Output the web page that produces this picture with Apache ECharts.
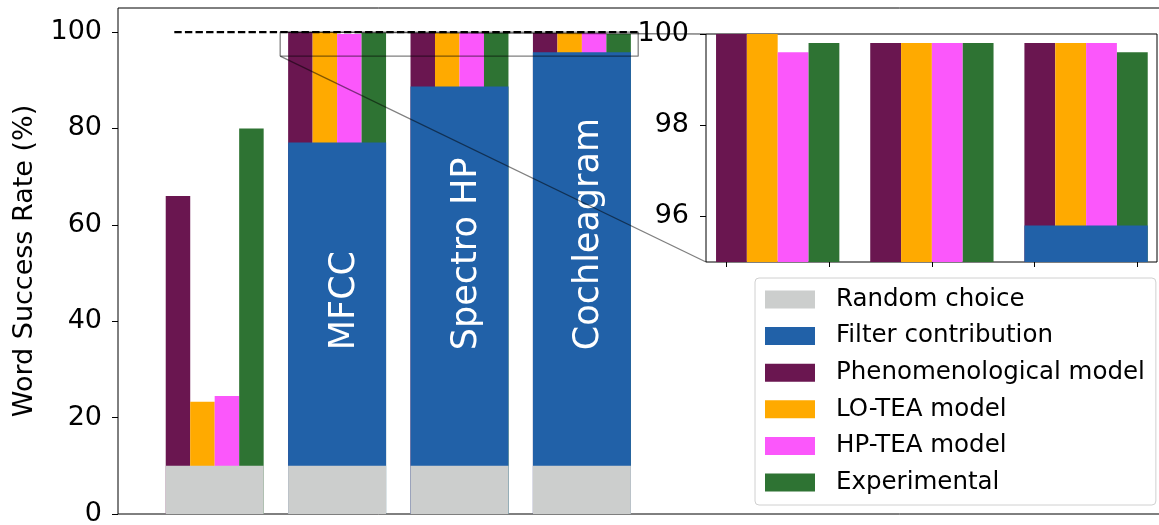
<!DOCTYPE html>
<html>
<head>
<meta charset="utf-8">
<script src="https://cdn.jsdelivr.net/npm/echarts@6/dist/echarts.min.js"></script>
<style>
  html, body { margin: 0; padding: 0; background: #fff; }
  #chart { width: 1159px; height: 525px; }
</style>
</head>
<body>
<div id="chart"></div>
<script>
// ---- data ----
const groups = ['No filter', 'MFCC', 'Spectro HP', 'Cochleagram'];
const barLabels = ['', 'MFCC', 'Spectro HP', 'Cochleagram'];
const randomChoice = [10, 10, 10, 10];
const filterTop = [null, 77.1, 88.7, 95.8];
const phenomenological = [66, 100, 99.8, 99.8];
const loTea = [23.3, 100, 99.8, 99.8];
const hpTea = [24.5, 99.6, 99.8, 99.8];
const experimental = [80, 99.8, 99.8, 99.6];
const yTicks = [0, 20, 40, 60, 80, 100];
const insetYTicks = [96, 98, 100];
const insetXTicks = [2 / 3, 4 / 3, 2, 8 / 3, 10 / 3];
const perfectX = [-0.33, 3.47];   // extent of the 100 % dashed line
const zoomX = [0.535, 3.46];      // zoomed region, also the inset limits
const zoomY = [95, 100];

const FONT = 'DejaVu Sans';
const chart = echarts.init(document.getElementById('chart'));

const models = [
  { name: 'Phenomenological model', values: phenomenological, color: '#6a1650' },
  { name: 'LO-TEA model', values: loTea, color: '#ffaa00' },
  { name: 'HP-TEA model', values: hpTea, color: '#fb57fb' },
  { name: 'Experimental', values: experimental, color: '#2e7333' }
];
const grayColor = '#cccecd';
const blueColor = '#2161a8';

// grid 0 = main axes, grid 1 = inset
function barsFor(gridIdx, wideAxis, narrowAxis, wideW, narrowW) {
  const out = [];
  models.forEach(function (m, k) {
    out.push({
      name: m.name, type: 'bar', xAxisIndex: narrowAxis, yAxisIndex: gridIdx,
      barWidth: narrowW, barGap: '-100%', z: 2,
      itemStyle: { color: m.color },
      data: m.values.map(function (v, i) { return [i + (k - 1.5) * 0.2, v]; })
    });
  });
  out.push({
    name: 'Filter contribution', type: 'bar', xAxisIndex: wideAxis, yAxisIndex: gridIdx,
    barWidth: wideW, barGap: '-100%', z: 3,
    itemStyle: { color: blueColor },
    data: filterTop.map(function (v, i) { return [i, v]; }).filter(function (d) { return d[1] != null; })
  });
  out.push({
    name: 'Random choice', type: 'bar', xAxisIndex: wideAxis, yAxisIndex: gridIdx,
    barWidth: wideW, barGap: '-100%', z: 4,
    itemStyle: { color: grayColor },
    data: randomChoice.map(function (v, i) { return [i, v]; })
  });
  return out;
}

let series = [].concat(barsFor(0, 0, 1, 98, 24.5), barsFor(1, 2, 3, 123.3, 30.8));

series.push({
  name: 'perfect', type: 'line', xAxisIndex: 0, yAxisIndex: 0, z: 6,
  symbol: 'none', silent: true,
  lineStyle: { color: '#000', width: 2.4, type: [7.4, 3.2] },
  data: perfectX.map(function (x) { return [x, 100]; })
});
series.push({
  name: 'zoomRect', type: 'line', xAxisIndex: 0, yAxisIndex: 0, z: 7,
  symbol: 'none', silent: true,
  lineStyle: { color: 'rgba(0,0,0,0.5)', width: 1.3 },
  data: [[zoomX[0], zoomY[0]], [zoomX[1], zoomY[0]], [zoomX[1], zoomY[1]], [zoomX[0], zoomY[1]], [zoomX[0], zoomY[0]]]
});
series.push({
  name: 'names', type: 'scatter', xAxisIndex: 0, yAxisIndex: 0, z: 8,
  symbolSize: 0, silent: true,
  itemStyle: { opacity: 1 },
  label: {
    show: true, position: 'inside', rotate: 90, align: 'left', verticalAlign: 'middle',
    color: '#ffffff', opacity: 1, fontSize: 35, fontFamily: FONT,
    textBorderWidth: 0, textBorderColor: 'transparent',
    formatter: function (p) { return p.data[2]; }
  },
  data: barLabels.map(function (t, i) { return [i + 0.06, 34, t]; }).filter(function (d) { return d[2]; })
});

const mainMin = -0.79, mainMax = -0.79 + 1062 / 122.4;
function hiddenX(grid, min, max) {
  return { type: 'value', gridIndex: grid, min: min, max: max, show: false };
}

const option = {
  animation: false,
  backgroundColor: '#fff',
  textStyle: { fontFamily: FONT },
  grid: [
    { left: 118, top: 8, width: 1062, height: 506, outerBoundsMode: 'none', containLabel: false,
      show: true, borderColor: '#000', borderWidth: 1, backgroundColor: 'transparent' },
    { left: 706, top: 34, width: 451, height: 228, outerBoundsMode: 'none', containLabel: false,
      show: true, borderColor: '#000', borderWidth: 1, backgroundColor: '#fff' }
  ],
  xAxis: [
    { type: 'value', gridIndex: 0, min: mainMin, max: mainMax,
      axisLine: { show: false, onZero: false }, axisTick: { show: false }, axisLabel: { show: false }, splitLine: { show: false } },
    hiddenX(0, mainMin, mainMax),
    { type: 'value', gridIndex: 1, min: zoomX[0], max: zoomX[1],
      axisLine: { show: false, onZero: false }, splitLine: { show: false },
      axisLabel: { show: false },
      axisTick: { show: true, length: 5, lineStyle: { color: '#000' }, customValues: insetXTicks } },
    hiddenX(1, zoomX[0], zoomX[1])
  ],
  yAxis: [
    { type: 'value', gridIndex: 0, min: 0, max: 105,
      name: 'Word Success Rate (%)', nameLocation: 'middle', nameGap: 80,
      nameTextStyle: { fontSize: 27, color: '#000', fontFamily: FONT },
      axisLine: { show: false, onZero: false }, splitLine: { show: false },
      axisTick: { show: true, length: 6, lineStyle: { color: '#000' }, customValues: yTicks },
      axisLabel: { fontSize: 27, color: '#000', margin: 16, customValues: yTicks } },
    { type: 'value', gridIndex: 1, min: zoomY[0], max: zoomY[1],
      axisLine: { show: false, onZero: false }, splitLine: { show: false },
      axisTick: { show: true, length: 6, lineStyle: { color: '#000' }, customValues: insetYTicks },
      axisLabel: { fontSize: 27, color: '#000', margin: 17, customValues: insetYTicks } }
  ],
  legend: {
    orient: 'vertical', left: 755, top: 278,
    padding: [9, 11, 10, 10],
    itemWidth: 50, itemHeight: 18, itemGap: 11.6,
    icon: 'rect',
    borderColor: '#d0d0d0', borderWidth: 1, borderRadius: 4,
    backgroundColor: 'rgba(255,255,255,0.8)',
    textStyle: { fontSize: 24.5, color: '#000', fontFamily: FONT, lineHeight: 24, padding: [0, 0, 0, 16] },
    data: ['Random choice', 'Filter contribution', 'Phenomenological model', 'LO-TEA model', 'HP-TEA model', 'Experimental']
  },
  series: series
};

chart.setOption(option);

// zoom connector lines between the marked region and the inset corners
const a1 = chart.convertToPixel({ gridIndex: 0 }, [zoomX[0], zoomY[1]]);
const b1 = chart.convertToPixel({ gridIndex: 1 }, [zoomX[0], zoomY[1]]);
const a2 = chart.convertToPixel({ gridIndex: 0 }, [zoomX[0], zoomY[0]]);
const b2 = chart.convertToPixel({ gridIndex: 1 }, [zoomX[0], zoomY[0]]);
chart.setOption({
  graphic: [a1, a2].map(function (a, i) {
    const b = i === 0 ? b1 : b2;
    return {
      type: 'line', z: 100, silent: true,
      shape: { x1: a[0], y1: a[1], x2: b[0], y2: b[1] },
      style: { stroke: 'rgba(0,0,0,0.5)', lineWidth: 1.3 }
    };
  })
});

window.addEventListener('resize', function () { chart.resize(); });
</script>
</body>
</html>
